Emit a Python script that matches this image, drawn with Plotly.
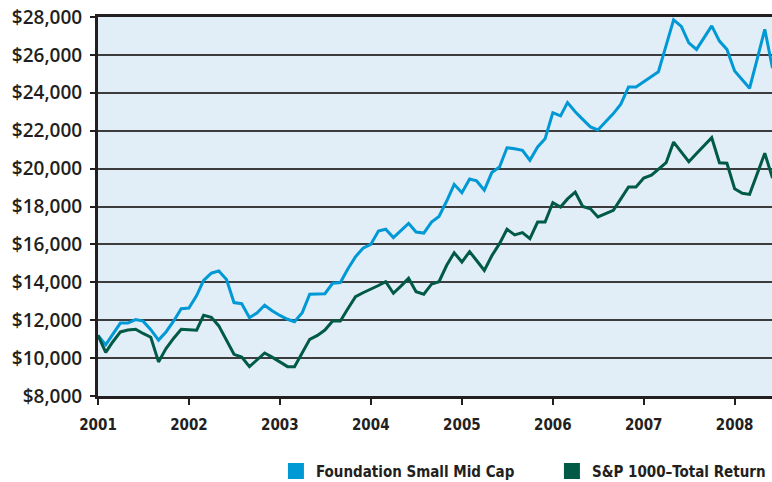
import pandas as pd
import plotly.graph_objects as go

# Monthly observation dates (Jan 2001 onward)
months = pd.date_range("2001-01-01", periods=90, freq="MS")

fund_name = "Foundation Small Mid Cap"
index_name = "S&P 1000\u2013Total Return"

foundation = [
    11200, 10700, 11250, 11850, 11850, 12030, 11950, 11500, 10950, 11380,
    11960, 12610, 12640, 13300, 14100, 14480, 14600, 14150, 12930, 12870,
    12130, 12380, 12790, 12500, 12250, 12050, 11920, 12400, 13370, 13370,
    13400, 13950, 13990, 14700, 15350, 15800, 16000, 16710, 16800, 16360,
    16750, 17110, 16650, 16600, 17180, 17470, 18290, 19170, 18730, 19450,
    19350, 18860, 19790, 20080, 21100, 21050, 20960, 20440, 21140, 21580,
    22950, 22780, 23480, 23000, 22600, 22200, 22040, 22450, 22900, 23400,
    24310, 24310, 24600, 24850, 25110, 26500, 27850, 27500, 26640, 26290,
    26900, 27530, 26730, 26290, 25150, 24700, 24240, 25800, 27350, 25300,
]

sp1000 = [
    11200, 10300, 10850, 11380, 11480, 11520, 11300, 11100, 9800, 10500,
    11050, 11520, 11500, 11470, 12260, 12150, 11700, 10950, 10200, 10060,
    9550, 9900, 10270, 10050, 9800, 9550, 9550, 10300, 10990, 11200,
    11480, 11960, 11960, 12600, 13240, 13450, 13630, 13830, 14030, 13420,
    13800, 14210, 13500, 13370, 13900, 14030, 14900, 15560, 15070, 15620,
    15150, 14630, 15400, 16040, 16800, 16500, 16620, 16300, 17180, 17180,
    18200, 17970, 18400, 18760, 18000, 17880, 17450, 17620, 17800, 18400,
    19030, 19030, 19500, 19650, 19980, 20310, 21400, 20900, 20360, 20800,
    21250, 21630, 20310, 20280, 18940, 18700, 18640, 19700, 20810, 19500,
]

year_ticks = ["2001", "2002", "2003", "2004", "2005", "2006", "2007", "2008"]
y_ticks = list(range(8000, 28001, 2000))
y_labels = ["${:,}".format(v) for v in y_ticks]

blue = "#0099D5"
green = "#005A46"
text_col = "#231F20"
narrow = "DejaVu Sans Condensed, Liberation Sans Narrow, sans-serif"

fig = go.Figure()
fig.add_trace(go.Scatter(x=months, y=foundation, mode="lines",
                         line=dict(color=blue, width=3), showlegend=False,
                         name=fund_name))
fig.add_trace(go.Scatter(x=months, y=sp1000, mode="lines",
                         line=dict(color=green, width=3), showlegend=False,
                         name=index_name))
# legend entries drawn as squares
fig.add_trace(go.Scatter(x=[None], y=[None], mode="markers", name=fund_name,
                         legendwidth=231,
                         marker=dict(symbol="square", size=18, color=blue)))
fig.add_trace(go.Scatter(x=[None], y=[None], mode="markers", name=index_name,
                         marker=dict(symbol="square", size=18, color=green)))

fig.update_layout(
    width=772, height=482,
    margin=dict(l=98, r=0, t=17, b=86, autoexpand=False),
    paper_bgcolor="white",
    plot_bgcolor="#E1EDF7",
    showlegend=True,
    legend=dict(orientation="h", x=0.264, xanchor="left", y=-0.155,
                yanchor="top",
                font=dict(family=narrow, size=15, color=text_col,
                          weight="bold"),
                bgcolor="rgba(0,0,0,0)", itemsizing="trace"),
    xaxis=dict(
        type="date",
        range=["2001-01-01", "2008-05-30"],
        tickvals=[f"{y}-01-01" for y in year_ticks],
        ticktext=year_ticks,
        showgrid=False, zeroline=False, automargin=False,
        showline=True, mirror=True, linecolor=text_col, linewidth=3,
        ticks="outside", ticklen=6, tickwidth=2, tickcolor=text_col,
        tickfont=dict(family=narrow, size=15, color=text_col, weight="bold"),
        ticklabelstandoff=7,
    ),
    yaxis=dict(
        range=[8000, 28000],
        tickvals=y_ticks, ticktext=y_labels,
        showgrid=True, gridcolor="#3C3C3C", gridwidth=1.5,
        zeroline=False, automargin=False,
        showline=True, linecolor=text_col, linewidth=3,
        ticks="outside", ticklen=5, tickwidth=2, tickcolor=text_col,
        tickfont=dict(family="Open Sans, Liberation Sans, sans-serif",
                      size=19, color=text_col, weight=600),
        ticklabelstandoff=4,
    ),
)

fig.write_html(
    "out.html",
    config={"displayModeBar": False},
    post_script="document.body.style.margin='0';"
                "document.body.style.overflow='hidden';",
)
